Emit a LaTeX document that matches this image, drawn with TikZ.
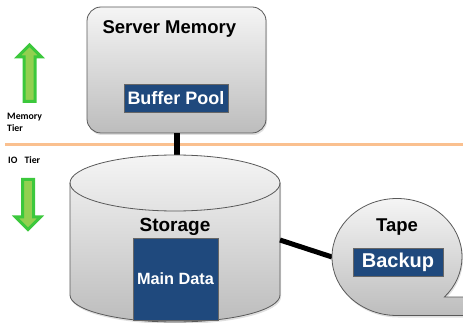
\documentclass[tikz,border=0pt]{standalone}
\usepackage{fontspec}
\setmainfont{Liberation Sans}
\newfontfamily\tierfont{Carlito}
\usetikzlibrary{positioning,shadows,shapes.geometric}

\definecolor{poolblue}{HTML}{1F497D}
\definecolor{arrowfill}{HTML}{92D050}
\definecolor{arrowedge}{HTML}{3CC83C}
\definecolor{tierline}{HTML}{FAC08F}

\begin{document}
\begin{tikzpicture}[x=1pt,y=-1pt,
  panel/.style={draw=black!65,line width=0.8pt,top color=black!4,bottom color=black!26,
    drop shadow={opacity=0.25,shadow xshift=1pt,shadow yshift=-2pt}},
  datablock/.style={fill=poolblue,draw=black!60,line width=0.4pt,text=white,font=\bfseries\fontsize{18}{21}\selectfont},
  title/.style={font=\bfseries\fontsize{18.5}{21}\selectfont},
  tier/.style={font=\tierfont\bfseries\fontsize{9.8}{12}\selectfont,inner sep=0pt},
  wire/.style={line width=#1,black},
  tierarrow/.style={draw=arrowedge,fill=arrowfill,line width=3pt,line join=miter}]
  \useasboundingbox (0,0) rectangle (463,323);

  % memory / io split
  \draw[tierline,line width=3pt] (5,145) -- (463,145);
  \node[tier,align=left,anchor=north west] (memtier) at (7,113) {Memory\\Tier};
  \node[tier,anchor=west] (iotier) at (8,160) {IO\enspace\ Tier};

  % green arrows
  \draw[tierarrow] (29.5,45) -- (41.5,57) -- (35,57) -- (35,101.5) -- (24,101.5)
    -- (24,57) -- (17.5,57) -- cycle;
  \draw[tierarrow] (28,229.5) -- (40.5,217) -- (33.5,217) -- (33.5,179.5) -- (22.5,179.5)
    -- (22.5,217) -- (15.5,217) -- cycle;

  % server memory
  \node[panel,rounded corners=14pt,minimum width=179,minimum height=126,inner sep=0pt]
    (mem) at (176.5,70) {};
  \node[title,anchor=west] (memtitle) at (99,29) {Server Memory};
  \node[datablock,minimum width=104,minimum height=28,inner sep=0pt] (pool) at (176,98) {Buffer Pool};

  % storage cylinder
  \coordinate (cyltop) at (175,155);
  \coordinate (cylright) at (280,240);
  \draw[wire=6pt] (mem.south) -- (mem.south |- cyltop);
  \path[panel] (70,183) -- (70,295) arc[start angle=180,end angle=0,x radius=105,y radius=27]
    -- (280,183) arc[start angle=0,end angle=-180,x radius=105,y radius=28] -- cycle;
  \draw[draw=black!65,line width=0.8pt] (70,183) arc[start angle=180,end angle=0,x radius=105,y radius=28];
  \node[title,font=\bfseries\fontsize{19}{22}\selectfont] (storage) at (175,227) {Storage};
  \node[datablock,minimum width=85,minimum height=82,inner sep=0pt] (maindata) at (175.5,279)
    {\fontsize{16.3}{19}\selectfont Main Data};

  % tape
  \node[ellipse,minimum width=130,minimum height=117,inner sep=0pt,outer sep=0pt] (tape) at (397,257) {};
  \draw[wire=5pt] (cylright) -- (tape.west);
  \path[panel] (tape.south) arc[start angle=90,end angle=403.2,x radius=65,y radius=58.5]
    -- (478,297) -- (478,315.5) -- cycle;
  \node[title] (tapetitle) at (397,227) {Tape};
  \node[datablock,minimum width=90,minimum height=28,inner sep=0pt,
    font=\bfseries\fontsize{20}{23}\selectfont] (backup) at (398,262) {Backup};
\end{tikzpicture}
\end{document}
